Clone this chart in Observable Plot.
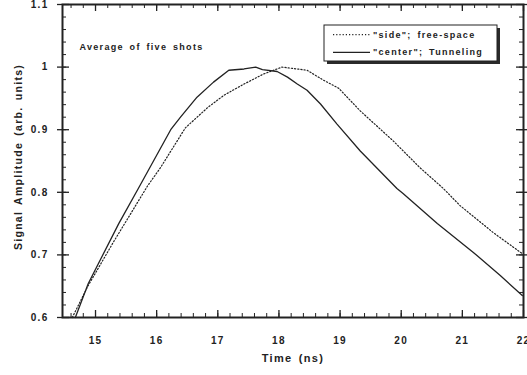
<!DOCTYPE html>
<html><head><meta charset="utf-8">
<script src="https://cdn.jsdelivr.net/npm/d3@7"></script>
<script src="https://cdn.jsdelivr.net/npm/@observablehq/plot@0.6"></script>
<style>
html,body{margin:0;padding:0;background:#fff;}
#chart svg{font-family:'Liberation Sans',Arial,sans-serif;font-weight:bold;font-size:10px;color:#222;}
#chart svg text{letter-spacing:1.3px;word-spacing:2px;}
</style>
</head><body><div id="chart"></div>
<script>
// "center"; Tunneling (solid)
const centerTime = [14.67,14.88,15.38,15.70,16.23,16.39,16.66,16.93,17.18,17.43,17.62,17.73,17.97,18.14,18.30,18.46,18.68,18.95,19.33,19.93,20.03,20.59,21.18,21.62,21.98];
const centerAmp  = [0.600,0.654,0.750,0.806,0.900,0.920,0.952,0.976,0.995,0.997,1.000,0.996,0.993,0.984,0.973,0.963,0.941,0.909,0.866,0.806,0.798,0.750,0.704,0.667,0.635];
// "side"; free-space (dotted)
const sideTime = [14.62,14.88,15.29,15.85,16.06,16.47,16.83,17.10,17.43,17.75,18.05,18.30,18.46,18.73,18.98,19.33,19.87,20.31,20.69,20.96,21.50,21.98];
const sideAmp  = [0.600,0.651,0.720,0.810,0.839,0.903,0.935,0.955,0.973,0.989,1.000,0.997,0.995,0.979,0.966,0.930,0.882,0.839,0.806,0.779,0.736,0.702];

const xTicks = [15,16,17,18,19,20,21,22];
const yTicks = [0.6,0.7,0.8,0.9,1,1.1];
const xMinor = d3.range(14.6, 22.001, 0.2);
const yMinor = d3.range(0.62, 1.099, 0.02);
const legendLabels = ['"side"; free-space', '"center"; Tunneling'];
const noteText = "Average of five shots";
const xLabel = "Time (ns)";
const yLabel = "Signal Amplitude (arb. units)";

const W = 527, H = 375, mL = 62, mR = 4, mT = 4, mB = 58;
const fw = W - mL - mR, fh = H - mT - mB;
const ink = "#222";

const center = centerTime.map((t, i) => ({t, a: centerAmp[i]}));
const side = sideTime.map((t, i) => ({t, a: sideAmp[i]}));

function legend(index, scales, values, dims) {
  const right = dims.width - dims.marginRight;
  const bx = right - 199, by = dims.marginTop + 21, bw = 173, bh = 36;
  const g = d3.create("svg:g");
  g.append("rect").attr("x", bx + 3).attr("y", by + 3).attr("width", bw).attr("height", bh)
    .attr("fill", "#2a2a2a").attr("stroke", "none");
  g.append("rect").attr("x", bx).attr("y", by).attr("width", bw).attr("height", bh)
    .attr("fill", "white").attr("stroke", ink).attr("stroke-width", 1);
  const st = [{dash: "1.2,2", w: 1.2}, {dash: null, w: 1.3}];
  legendLabels.forEach((lab, i) => {
    const y = by + 9.7 + i * 17.6;
    g.append("line").attr("x1", bx + 9).attr("x2", bx + 46).attr("y1", y).attr("y2", y)
      .attr("stroke", ink).attr("stroke-width", st[i].w).attr("stroke-dasharray", st[i].dash);
    g.append("text").attr("x", bx + 49).attr("y", y).attr("dy", "0.35em")
      .attr("text-anchor", "start").attr("font-size", 9).attr("fill", ink).text(lab);
  });
  return g.node();
}

const chart = Plot.plot({
  width: W, height: H,
  marginLeft: mL, marginRight: mR, marginTop: mT, marginBottom: mB,
  x: {domain: [14.46, 22]},
  y: {domain: [0.6, 1.1]},
  marks: [
    Plot.ruleX(xMinor, {insetTop: fh - 4, stroke: ink}),
    Plot.ruleX(xMinor, {insetBottom: fh - 4, stroke: ink}),
    Plot.ruleX(xTicks, {insetTop: fh - 7, stroke: ink, strokeWidth: 1.3}),
    Plot.ruleX(xTicks, {insetBottom: fh - 7, stroke: ink, strokeWidth: 1.3}),
    Plot.ruleY(yMinor, {insetRight: fw - 4, stroke: ink}),
    Plot.ruleY(yMinor, {insetLeft: fw - 4, stroke: ink}),
    Plot.ruleY(yTicks, {insetLeft: -5, insetRight: fw - 7, stroke: ink, strokeWidth: 1.3}),
    Plot.ruleY(yTicks, {insetLeft: fw - 7, insetRight: -5, stroke: ink, strokeWidth: 1.3}),
    Plot.line(side, {x: "t", y: "a", stroke: ink, strokeWidth: 1.2, strokeDasharray: "1.2,2"}),
    Plot.line(center, {x: "t", y: "a", stroke: ink, strokeWidth: 1.3}),
    Plot.frame({stroke: ink, strokeWidth: 2}),
    Plot.axisX(xTicks, {tickSize: 0, tickPadding: 19, tickFormat: d => String(d), label: null, fill: ink}),
    Plot.axisY(yTicks, {tickSize: 0, tickPadding: 14, tickFormat: d => String(d), label: null, fill: ink}),
    Plot.text([xLabel], {frameAnchor: "bottom", dy: 44, fontSize: 11, fill: ink}),
    Plot.text([yLabel], {frameAnchor: "left", rotate: -90, dx: -44, dy: -4, textAnchor: "middle", fontSize: 10.5, fill: ink}),
    Plot.text([noteText], {frameAnchor: "top-left", dx: 17, dy: 39, textAnchor: "start", fontSize: 9, fill: ink}),
    legend
  ]
});
document.getElementById("chart").append(chart);
</script>
</body></html>
